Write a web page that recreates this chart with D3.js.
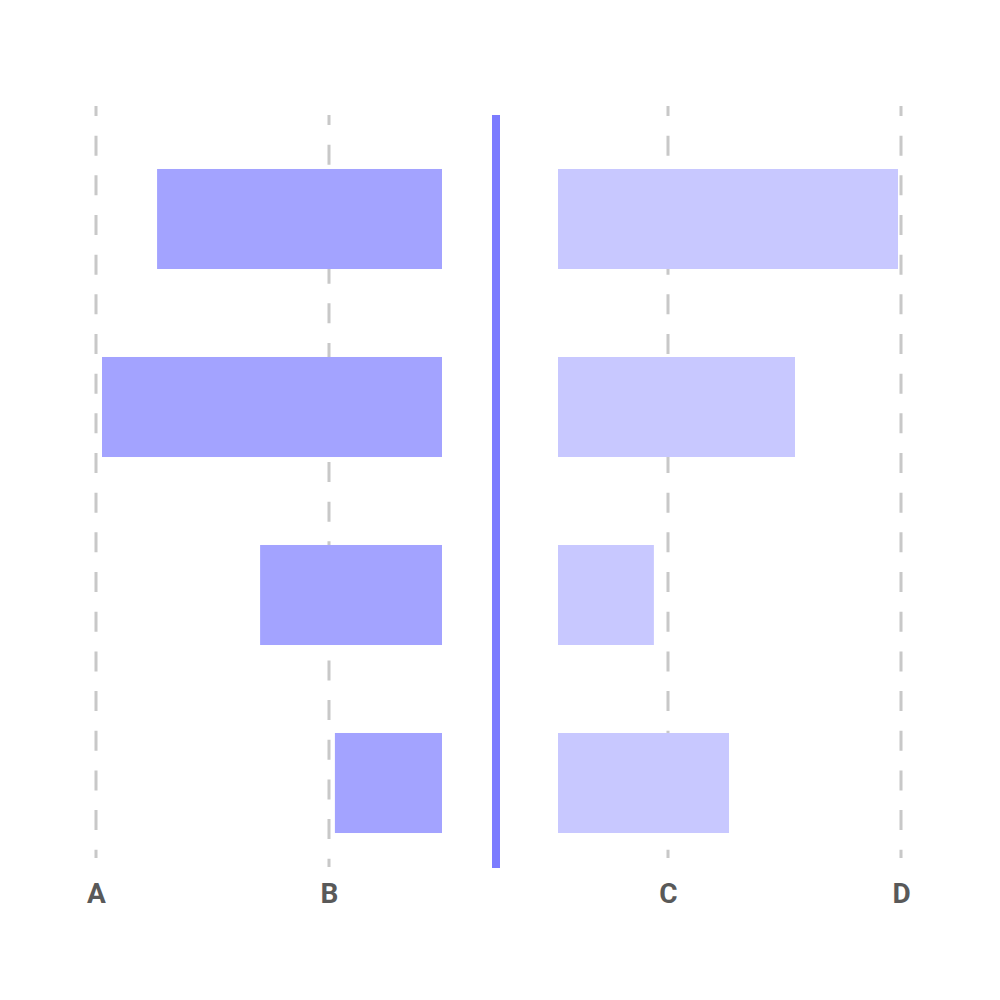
<!DOCTYPE html>
<html>
<head>
<meta charset="utf-8">
<script src="https://cdn.jsdelivr.net/npm/d3@7"></script>
<style>
  html, body { margin: 0; padding: 0; background: #fff; }
  svg { display: block; }
</style>
</head>
<body>
<svg id="chart" width="1000" height="1000"></svg>
<script>
// ---- data ----
const categories = ["r1", "r2", "r3", "r4"];
const leftValues = [83.8, 100, 53.5, 31.5];
const rightValues = [100, 69.7, 28.2, 50.3];
const leftTickLabels = ["A", "B"];
const leftTickValues = [101.7, 33.2];
const rightTickLabels = ["C", "D"];
const rightTickValues = [32.4, 100.9];

// ---- layout ----
const svg = d3.select("#chart");
const y = d3.scaleBand().domain(categories).range([125, 877]).paddingInner(0.468).paddingOuter(0.234);
const xLeft = d3.scaleLinear().domain([0, 100]).range([442, 102]);
const xRight = d3.scaleLinear().domain([0, 100]).range([558, 898]);

const grid = leftTickValues.map((v, i) => ({label: leftTickLabels[i], x: Math.round(xLeft(v)), shift: i === 1 ? 9 : 0}))
  .concat(rightTickValues.map((v, i) => ({label: rightTickLabels[i], x: Math.round(xRight(v)), shift: 0})));

// gridlines
svg.append("g").selectAll("line").data(grid).join("line")
  .attr("x1", d => d.x).attr("x2", d => d.x)
  .attr("y1", d => 106 + d.shift).attr("y2", d => 858 + d.shift)
  .attr("stroke", "#c8c8c8").attr("stroke-width", 3)
  .attr("stroke-dasharray", "20,19.67").attr("stroke-dashoffset", 10);

// labels
svg.append("g").selectAll("text").data(grid).join("text")
  .attr("x", d => d.x + 0.5).attr("y", 903)
  .attr("text-anchor", "middle")
  .attr("font-family", "Roboto, sans-serif").attr("font-weight", "bold").attr("font-size", 28)
  .attr("fill", "#595959")
  .text(d => d.label);

// left bars
svg.append("g").selectAll("rect").data(leftValues).join("rect")
  .attr("x", d => xLeft(d)).attr("y", (d, i) => y(categories[i]))
  .attr("width", d => xLeft(0) - xLeft(d)).attr("height", y.bandwidth())
  .attr("fill", "#a3a3ff");

// right bars
svg.append("g").selectAll("rect").data(rightValues).join("rect")
  .attr("x", xRight(0)).attr("y", (d, i) => y(categories[i]))
  .attr("width", d => xRight(d) - xRight(0)).attr("height", y.bandwidth())
  .attr("fill", "#c8c8ff");

// center line
svg.append("rect").attr("x", 492).attr("y", 115).attr("width", 8).attr("height", 753)
  .attr("fill", "#7b7bff");
</script>
</body>
</html>
